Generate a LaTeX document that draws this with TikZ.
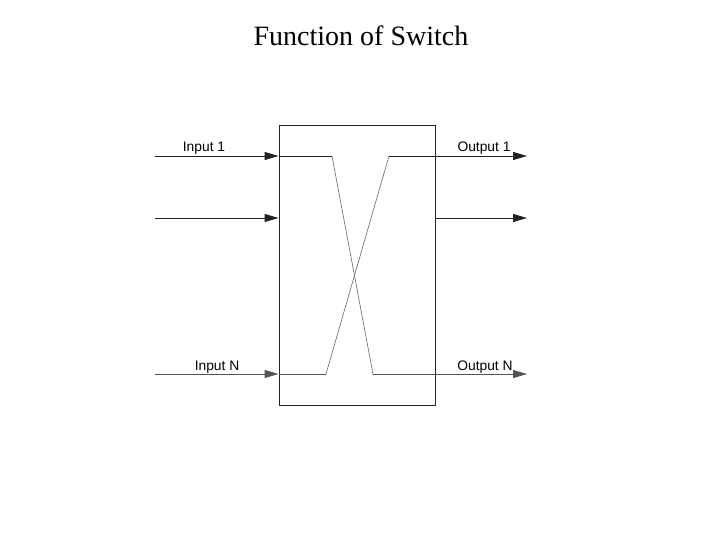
\documentclass[tikz,border=0pt]{standalone}
\usepackage{fontspec}
\setmainfont{Liberation Serif}
\setsansfont{Liberation Sans}
\usetikzlibrary{arrows.meta,positioning}
\definecolor{Ink}{HTML}{222222}
\definecolor{Wire}{HTML}{555555}
\definecolor{Path}{HTML}{666666}
\tikzset{>=Triangle,
 every node/.style={text=black},
 arr/.style={-{Triangle[length=14pt,width=8pt]},line width=.9pt,draw=Ink},
 wire/.style={line width=.9pt,draw=Ink},
 cross/.style={line width=.6pt,draw=Path},
 port/.style={font=\sffamily\fontsize{13.8}{16}\selectfont,inner sep=1pt,anchor=base},
 switchbox/.style={draw=Ink,line width=.9pt,minimum width=156pt,minimum height=280pt,inner sep=0pt},
 }
\begin{document}
\begin{tikzpicture}[x=1pt,y=-1pt]
 \useasboundingbox (0,0) rectangle (720,540);
 \node[font=\fontsize{28}{32}\selectfont](title)at(361,36){Function of Switch};
 \node[switchbox](sw)at(357,265){};
 % ports
 \coordinate(in1)at(155,156);\coordinate(in2)at(155,218);\coordinate(inN)at(155,374);
 \coordinate(out1)at(527,156);\coordinate(out2)at(527,218);\coordinate(outN)at(527,374);
 \draw[arr](in1)--(sw.west|-in1);
 \draw[arr](in2)--(sw.west|-in2);
 \draw[arr,draw=Wire](inN)--(sw.west|-inN);
 \draw[arr](sw.east|-out1)--(out1);
 \draw[arr](sw.east|-out2)--(out2);
 \draw[arr,draw=Wire](sw.east|-outN)--(outN);
 \node[port](lin1)at(204,152){Input 1};
 \node[port](linN)at(217,370){Input N};
 \node[port](lout1)at(484,152){Output 1};
 \node[port](loutN)at(485,370){Output N};
 % crossing inside the switch
 \coordinate(a1)at(332,156);\coordinate(b1)at(373,374);
 \coordinate(aN)at(326,374);\coordinate(bN)at(389,156);
 \draw[wire](sw.west|-in1)--(a1);\draw[cross](a1)--(b1);\draw[wire,draw=Wire](b1)--(sw.east|-outN);
 \draw[wire,draw=Wire](sw.west|-inN)--(aN);\draw[cross](aN)--(bN);\draw[wire](bN)--(sw.east|-out1);
\end{tikzpicture}
\end{document}
